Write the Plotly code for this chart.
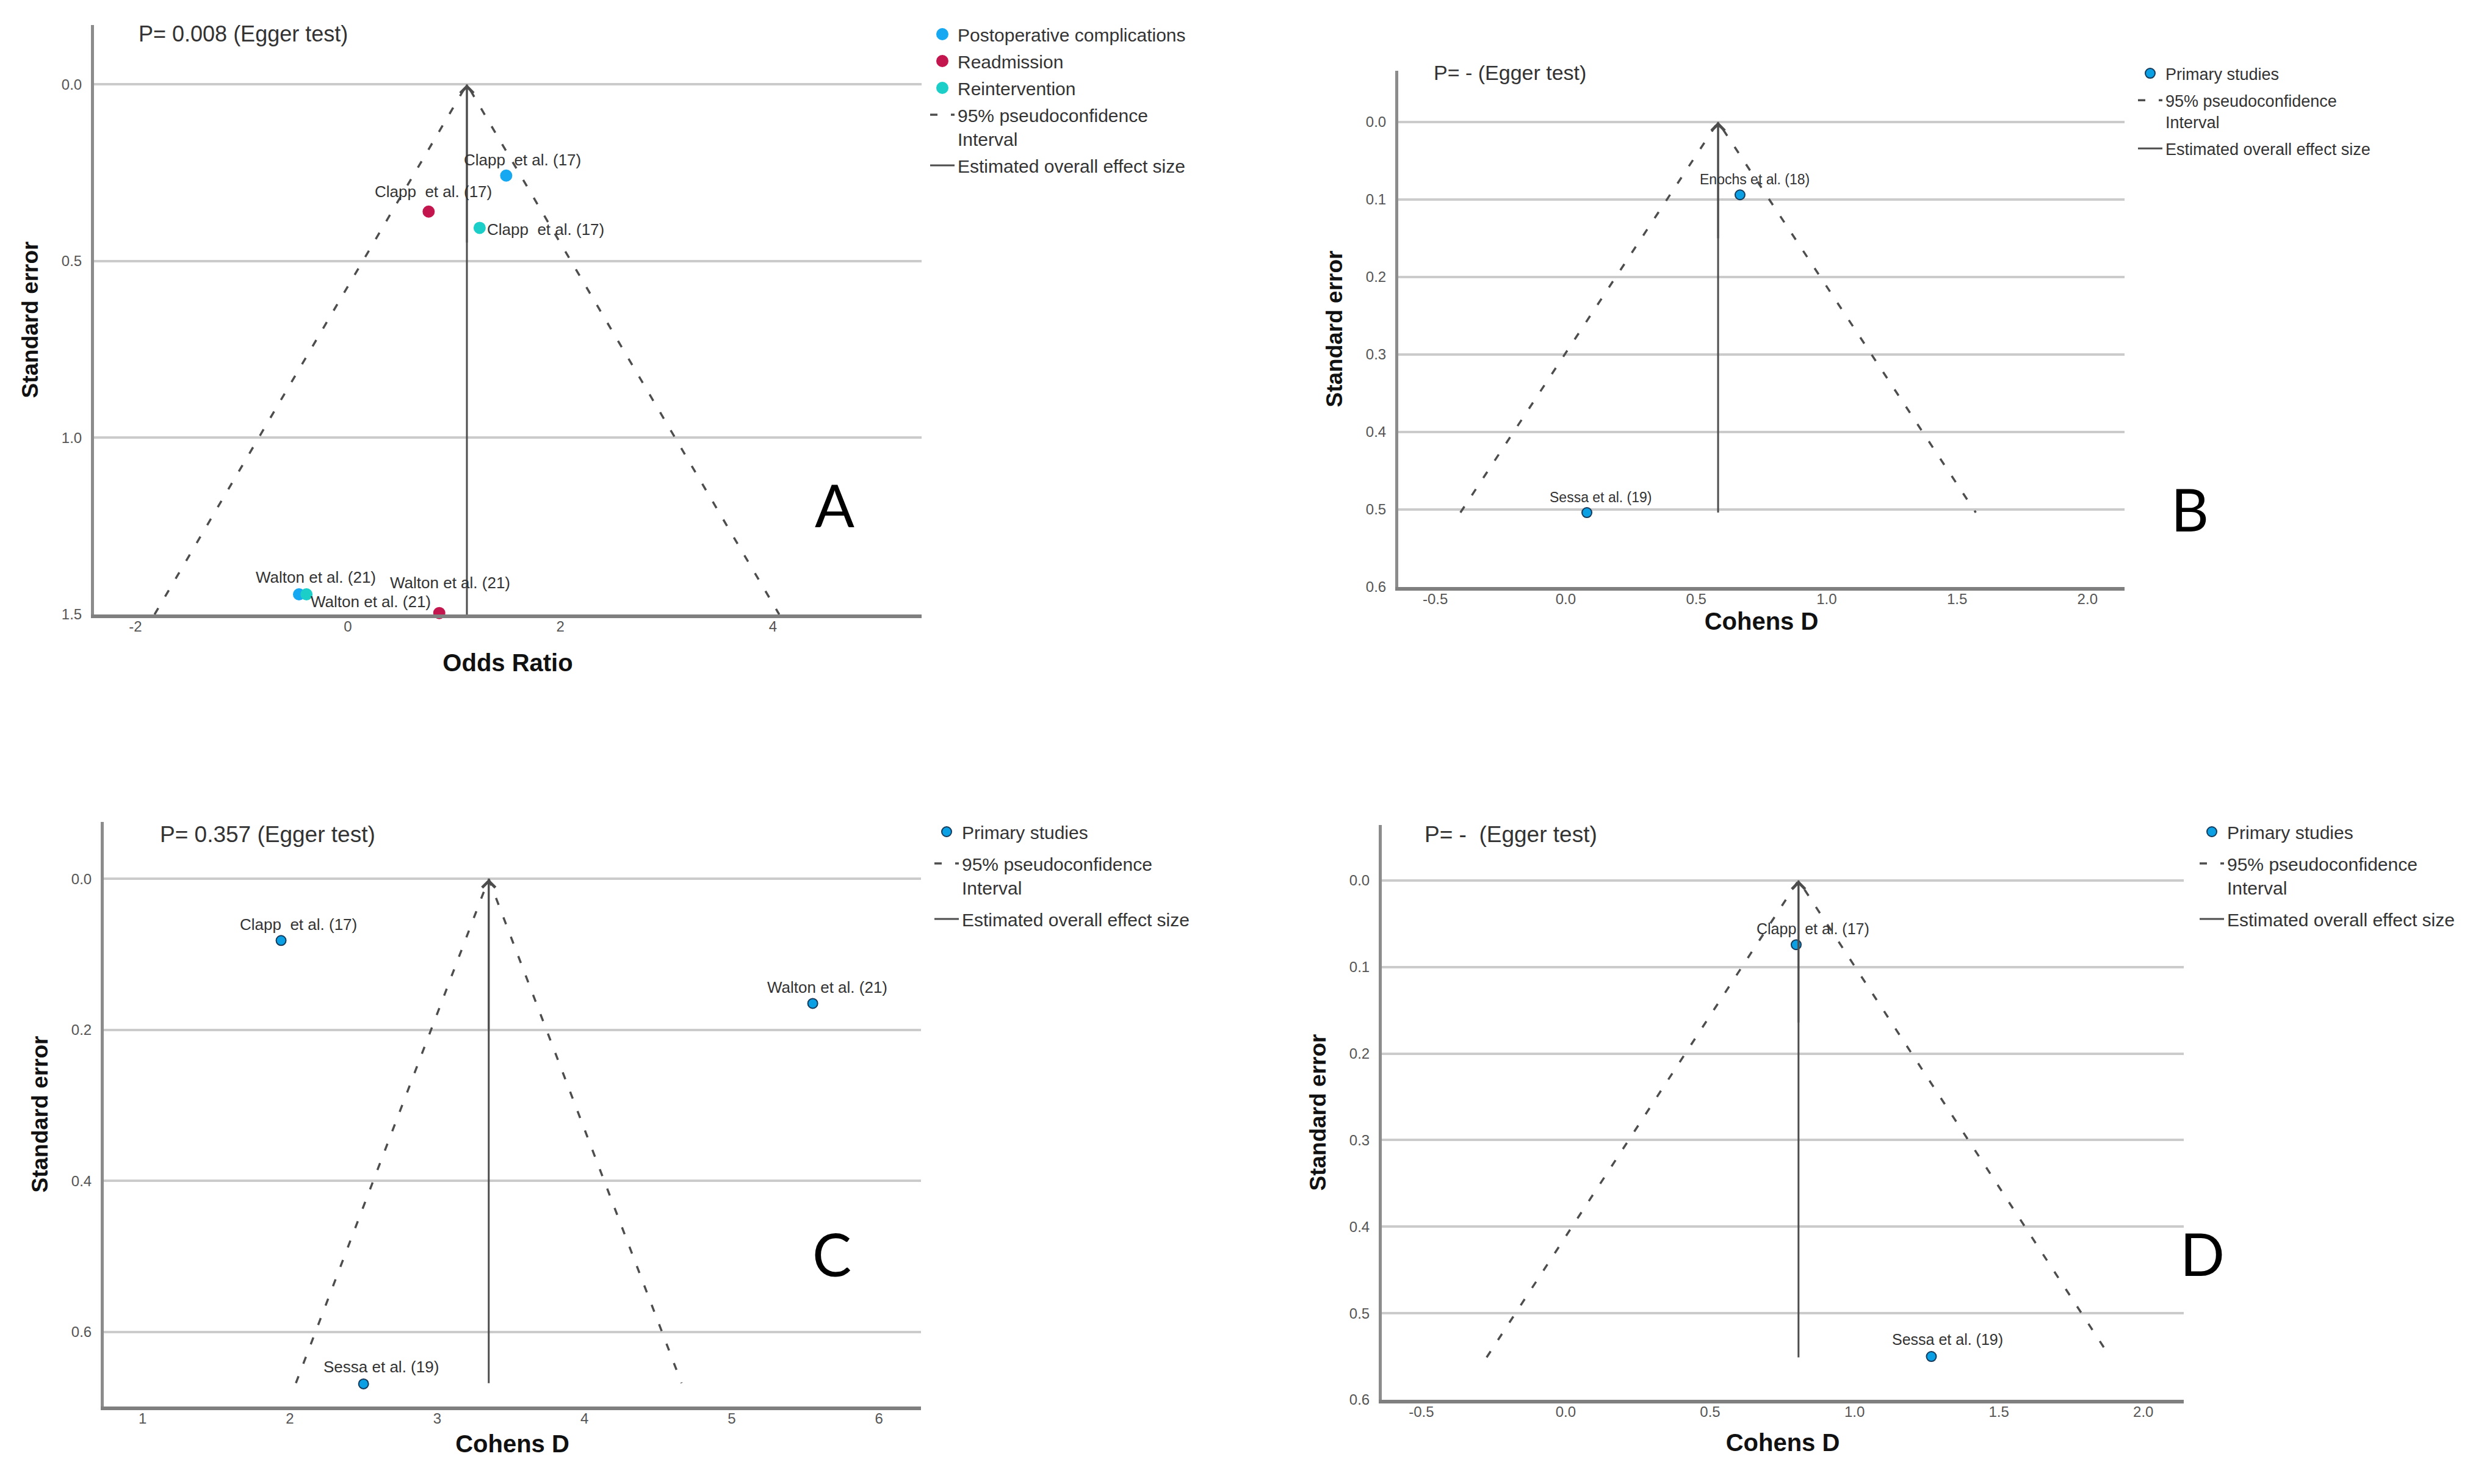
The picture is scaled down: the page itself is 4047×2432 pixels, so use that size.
import plotly.graph_objects as go

W, H = 4047, 2432
FONT = "Liberation Sans"

# ---------------- data ----------------
# Panel A (Odds ratio vs standard error)
a_post_x = [1.49, -0.46]
a_post_se = [0.258, 1.443]
a_post_lbl = ["Clapp  et al. (17)", "Walton et al. (21)"]
a_readm_x = [0.76, 0.86]
a_readm_se = [0.36, 1.496]
a_readm_lbl = ["Clapp  et al. (17)", "Walton et al. (21)"]
a_reint_x = [1.24, -0.39]
a_reint_se = [0.406, 1.443]
a_reint_lbl = ["Clapp  et al. (17)", "Walton et al. (21)"]
a_est, a_max_se = 1.12, 1.5

# Panel B (Cohens D)
b_x = [0.668, 0.081]
b_se = [0.094, 0.504]
b_lbl = ["Enochs et al. (18)", "Sessa et al. (19)"]
b_est, b_max_se = 0.584, 0.504

# Panel C (Cohens D)
c_x = [1.94, 5.55, 2.50]
c_se = [0.0816, 0.165, 0.669]
c_lbl = ["Clapp  et al. (17)", "Walton et al. (21)", "Sessa et al. (19)"]
c_est, c_max_se = 3.35, 0.668

# Panel D (Cohens D)
d_x = [0.798, 1.266]
d_se = [0.0743, 0.550]
d_lbl = ["Clapp  et al. (17)", "Sessa et al. (19)"]
d_est, d_max_se = 0.806, 0.551

Z95 = 1.96

p_texts = ["P= 0.008 (Egger test)", "P= - (Egger test)", "P= 0.357 (Egger test)", "P= -  (Egger test)"]
panel_letters = ["A", "B", "C", "D"]

a_xticks = [-2, 0, 2, 4]
a_xticktext = ["-2", "0", "2", "4"]
a_yticks = [0, 0.5, 1.0, 1.5]
cd_xticks = [-0.5, 0.0, 0.5, 1.0, 1.5, 2.0]
cd_xticktext = ["-0.5", "0.0", "0.5", "1.0", "1.5", "2.0"]
c_xticks = [1, 2, 3, 4, 5, 6]
c_xticktext = ["1", "2", "3", "4", "5", "6"]
bd_yticks = [0, 0.1, 0.2, 0.3, 0.4, 0.5, 0.6]
c_yticks = [0, 0.2, 0.4, 0.6]

# ---------------- styles ----------------
C_POST = "#17A8F2"
C_READM = "#C3154E"
C_REINT = "#1BCFC8"
C_PRIM = "#0BA0E3"
LINE_C = "#4d4d4d"
DASH = "12px,22px"

# label offsets in pixels: (xshift, yshift, xanchor)
a_post_off = [(27, 26, "center"), (28, 28, "center")]
a_readm_off = [(8, 33, "center"), (18, 50, "center")]
a_reint_off = [(10, -3, "left"), (5, -12, "left")]
b_off = [(24, 25, "center"), (22, 25, "center")]
c_off = [(28, 26, "center"), (24, 26, "center"), (29, 28, "center")]
d_off = [(27, 26, "center"), (27, 28, "center")]

fig = go.Figure()


def px_dom_x(a, b):
    return [a / W, b / W]


def px_dom_y(top, bottom):
    return [1 - bottom / H, 1 - top / H]


panels = [
    dict(xd=px_dom_x(146, 1502), yd=px_dom_y(33, 999), xr=[-2.39, 5.40], yr=[1.5, -0.168],
         xt=a_xticks, xtt=a_xticktext, yt=a_yticks, xtitle="Odds Ratio", xst=35),
    dict(xd=px_dom_x(2283, 3473), yd=px_dom_y(108, 954), xr=[-0.642, 2.142], yr=[0.6, -0.066],
         xt=cd_xticks, xtt=cd_xticktext, yt=bd_yticks, xtitle="Cohens D", xst=12),
    dict(xd=px_dom_x(162, 1501), yd=px_dom_y(1339, 2297), xr=[0.736, 6.285], yr=[0.699, -0.0755],
         xt=c_xticks, xtt=c_xticktext, yt=c_yticks, xtitle="Cohens D", xst=17),
    dict(xd=px_dom_x(2256, 3570), yd=px_dom_y(1344, 2286), xr=[-0.637, 2.14], yr=[0.6, -0.064],
         xt=cd_xticks, xtt=cd_xticktext, yt=bd_yticks, xtitle="Cohens D", xst=26),
]

layout_axes = {}
for i, p in enumerate(panels):
    n = "" if i == 0 else str(i + 1)
    layout_axes["xaxis" + n] = dict(
        domain=p["xd"], range=p["xr"], anchor="y" + n, showgrid=False, zeroline=False,
        showline=True, linecolor="#7f7f7f", linewidth=6, ticks="",
        tickvals=p["xt"], ticktext=p["xtt"], ticklabelstandoff=-7,
        tickfont=dict(size=24, color="#555555", family=FONT),
        title=dict(text=p["xtitle"], standoff=p["xst"],
                   font=dict(size=40, color="#111111", family=FONT, weight="bold")),
        automargin=False, fixedrange=True,
    )
    layout_axes["yaxis" + n] = dict(
        domain=p["yd"], range=p["yr"], anchor="x" + n, showgrid=True, gridcolor="#cbcbcb",
        gridwidth=3.5, zeroline=False, showline=True, linecolor="#8c8c8c", linewidth=5,
        ticks="", tickvals=p["yt"], tickformat=".1f", ticklabelstandoff=10,
        tickfont=dict(size=24, color="#555555", family=FONT),
        title=dict(text="Standard error", standoff=28,
                   font=dict(size=37, color="#111111", family=FONT, weight="bold")),
        automargin=False, fixedrange=True,
    )


def add_funnel(i, est, max_se, legend_name):
    n = "" if i == 0 else str(i + 1)
    xa, ya = "x" + n, "y" + n
    # pseudo-confidence funnel
    fig.add_trace(go.Scatter(
        x=[est - Z95 * max_se, est, est + Z95 * max_se], y=[max_se, 0, max_se],
        mode="lines", line=dict(color=LINE_C, width=3.5, dash=DASH),
        name="95% pseudoconfidence<br>Interval", xaxis=xa, yaxis=ya, legend=legend_name,
        legendgroup=legend_name + "ci", hoverinfo="skip"))
    # estimated overall effect
    fig.add_trace(go.Scatter(
        x=[est, est], y=[max_se, 0], mode="lines", line=dict(color=LINE_C, width=3),
        name="Estimated overall effect size", xaxis=xa, yaxis=ya, legend=legend_name,
        legendgroup=legend_name + "est", hoverinfo="skip"))
    fig.add_annotation(x=est, y=0, ax=est, ay=max_se * 0.3, xref=xa, yref=ya,
                       axref=xa, ayref=ya, text="", showarrow=True, arrowhead=4,
                       arrowsize=1.4, arrowwidth=3, arrowcolor=LINE_C)


def add_points(i, xs, ses, color, name, legend_name, outline, size, lw):
    n = "" if i == 0 else str(i + 1)
    xa, ya = "x" + n, "y" + n
    fig.add_trace(go.Scatter(
        x=xs, y=ses, mode="markers", name=name, xaxis=xa, yaxis=ya, legend=legend_name,
        legendgroup=legend_name + name, cliponaxis=False,
        marker=dict(color=color, size=size, line=dict(color=outline, width=lw))))


def add_labels(i, xs, ses, labels, offs, fsize):
    n = "" if i == 0 else str(i + 1)
    for x, y, t, (dx, dy, anc) in zip(xs, ses, labels, offs):
        fig.add_annotation(x=x, y=y, xref="x" + n, yref="y" + n, text=t, showarrow=False,
                           xshift=dx, yshift=dy, xanchor=anc, yanchor="middle",
                           font=dict(size=fsize, color="#333333", family=FONT))


# Panel A
add_points(0, a_post_x, a_post_se, C_POST, "Postoperative complications", "legend", C_POST, 15, 5)
add_points(0, a_readm_x, a_readm_se, C_READM, "Readmission", "legend", C_READM, 15, 5)
add_points(0, a_reint_x, a_reint_se, C_REINT, "Reintervention", "legend", C_REINT, 15, 5)
add_funnel(0, a_est, a_max_se, "legend")
add_labels(0, a_post_x, a_post_se, a_post_lbl, a_post_off, 26)
add_labels(0, a_readm_x, a_readm_se, a_readm_lbl, a_readm_off, 26)
add_labels(0, a_reint_x, a_reint_se, a_reint_lbl, a_reint_off, 26)

# Panel B
add_points(1, b_x, b_se, C_PRIM, "Primary studies", "legend2", "#143a5c", 16, 2)
add_funnel(1, b_est, b_max_se, "legend2")
add_labels(1, b_x, b_se, b_lbl, b_off, 23)

# Panel C
add_points(2, c_x, c_se, C_PRIM, "Primary studies", "legend3", "#143a5c", 16, 2)
add_funnel(2, c_est, c_max_se, "legend3")
add_labels(2, c_x, c_se, c_lbl, c_off, 26)

# Panel D
add_points(3, d_x, d_se, C_PRIM, "Primary studies", "legend4", "#143a5c", 16, 2)
add_funnel(3, d_est, d_max_se, "legend4")
add_labels(3, d_x, d_se, d_lbl, d_off, 25)

# P-value texts and panel letters
p_pos = [(0.052, 0.985), (0.047, 0.996), (0.067, 0.979), (0.052, 0.984)]
letter_pos = [(0.895, 0.187), (1.090, 0.152), (0.891, 0.261), (1.023, 0.255)]
p_sizes = [36, 34, 37, 37]
for i in range(4):
    n = "" if i == 0 else str(i + 1)
    fig.add_annotation(x=p_pos[i][0], y=p_pos[i][1], xref="x" + n + " domain",
                       yref="y" + n + " domain", text=p_texts[i], showarrow=False,
                       xanchor="left", yanchor="middle",
                       font=dict(size=p_sizes[i], color="#333333", family=FONT))
    fig.add_annotation(x=letter_pos[i][0], y=letter_pos[i][1], xref="x" + n + " domain",
                       yref="y" + n + " domain", text=panel_letters[i], showarrow=False,
                       xanchor="center", yanchor="middle",
                       font=dict(size=96, color="#000000", family="Lato"))


def legend_cfg(left_px, top_px, size, gap):
    return dict(x=left_px / W, y=1 - top_px / H, xanchor="left", yanchor="top",
                font=dict(size=size, color="#333333", family=FONT), itemwidth=40,
                valign="top", bgcolor="rgba(0,0,0,0)", tracegroupgap=gap,
                traceorder="grouped", itemclick=False, itemdoubleclick=False)


fig.update_layout(
    width=W, height=H, margin=dict(l=0, r=0, t=0, b=0),
    paper_bgcolor="white", plot_bgcolor="white", showlegend=True,
    legend=legend_cfg(1511, 22, 30, 2),
    legend2=legend_cfg(3490, 88, 27, 6),
    legend3=legend_cfg(1518, 1329, 30, 10),
    legend4=legend_cfg(3591, 1329, 30, 10),
    **layout_axes,
)

fig.write_html("out.html")
